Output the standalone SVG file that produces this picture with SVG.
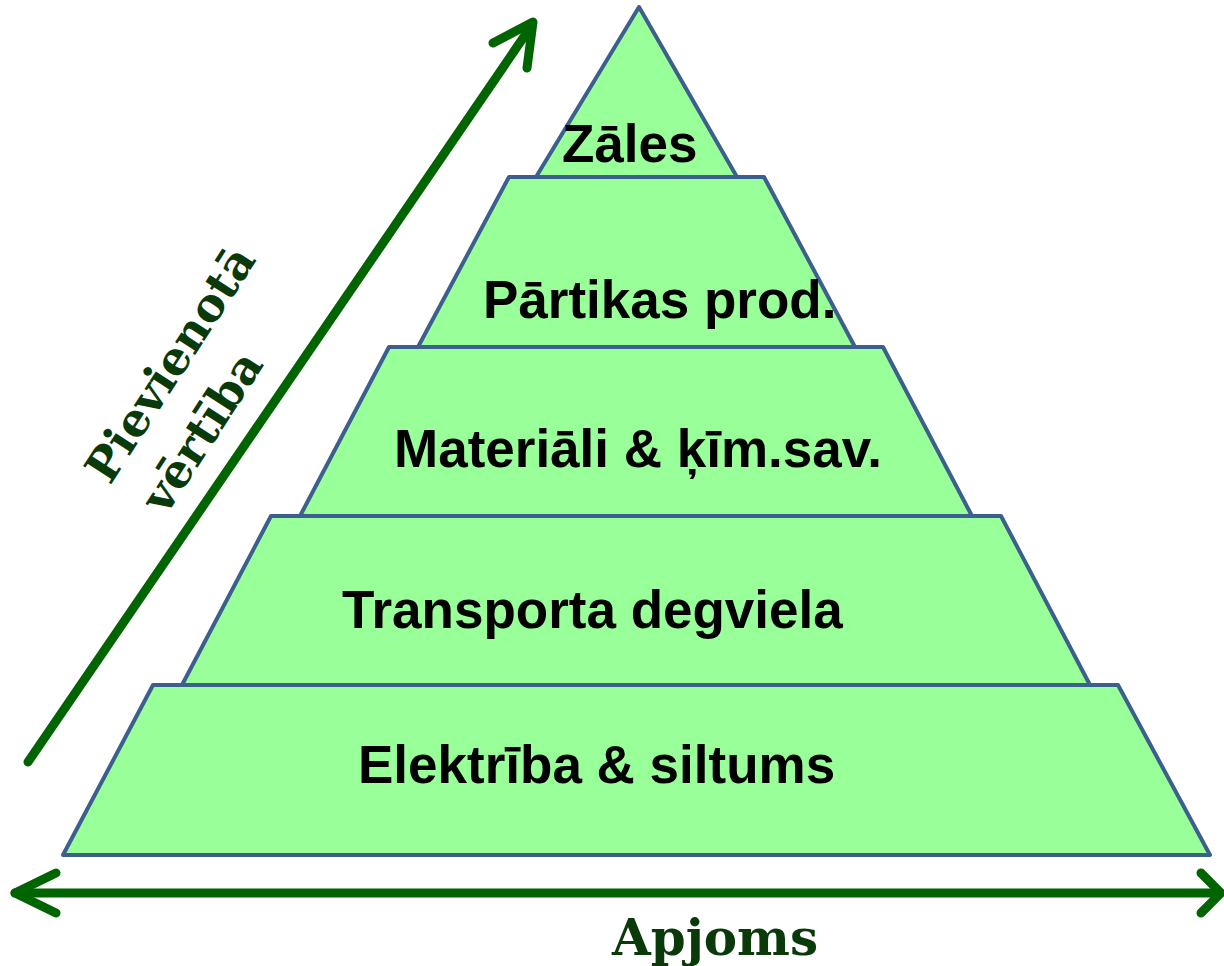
<svg xmlns="http://www.w3.org/2000/svg" width="1224" height="966" viewBox="0 0 1224 966">
<style>
.tier{fill:#99FF99;stroke:#3C5F8D;stroke-width:4;stroke-linejoin:round}
.lbl{font-family:"Liberation Sans",Arial,sans-serif;font-weight:bold;font-size:53px;fill:#000}
.axis{fill:none;stroke:#006400;stroke-width:9;stroke-linecap:round;stroke-linejoin:round}
.axt{font-family:"DejaVu Serif",serif;font-weight:bold;fill:#0A3A0A}
</style>
<rect width="1224" height="966" fill="#fff"/>
<g id="tier5"><polygon class="tier" points="153,685 1118,685 1210,855 63,855"/><text class="lbl" x="358" y="783">Elektrība &amp; siltums</text></g>
<g id="tier4"><polygon class="tier" points="271,516 1001,516 1090,685 182,685"/><text class="lbl" x="342" y="628">Transporta degviela</text></g>
<g id="tier3"><polygon class="tier" points="389,347 883,347 972,516 300,516"/><text class="lbl" x="394" y="467">Materiāli &amp; ķīm.sav.</text></g>
<g id="tier2"><polygon class="tier" points="509,177 764,177 855,347 418,347"/><text class="lbl" x="483" y="318">Pārtikas prod.</text></g>
<g id="tier1"><polygon class="tier" points="639,7 737,177 536,177"/><text class="lbl" x="562" y="162">Zāles</text></g>
<g id="connectors">
<line class="axis" x1="28" y1="762" x2="532" y2="25"/>
<polyline class="axis" points="493,43 533,22 527,68"/>
<line class="axis" x1="15" y1="893" x2="1220" y2="893"/>
<polyline class="axis" points="56,873 15,893 56,913"/>
<polyline class="axis" points="1201,873 1221,893 1201,913"/>
</g>
<g id="axis-labels">
<text class="axt" font-size="50" x="715" y="955" text-anchor="middle">Apjoms</text>
<text class="axt" font-size="46" transform="translate(110,486) rotate(-57)">Pievienotā</text>
<text class="axt" font-size="46" transform="translate(166,516) rotate(-57)">vērtība</text>
</g>
</svg>
